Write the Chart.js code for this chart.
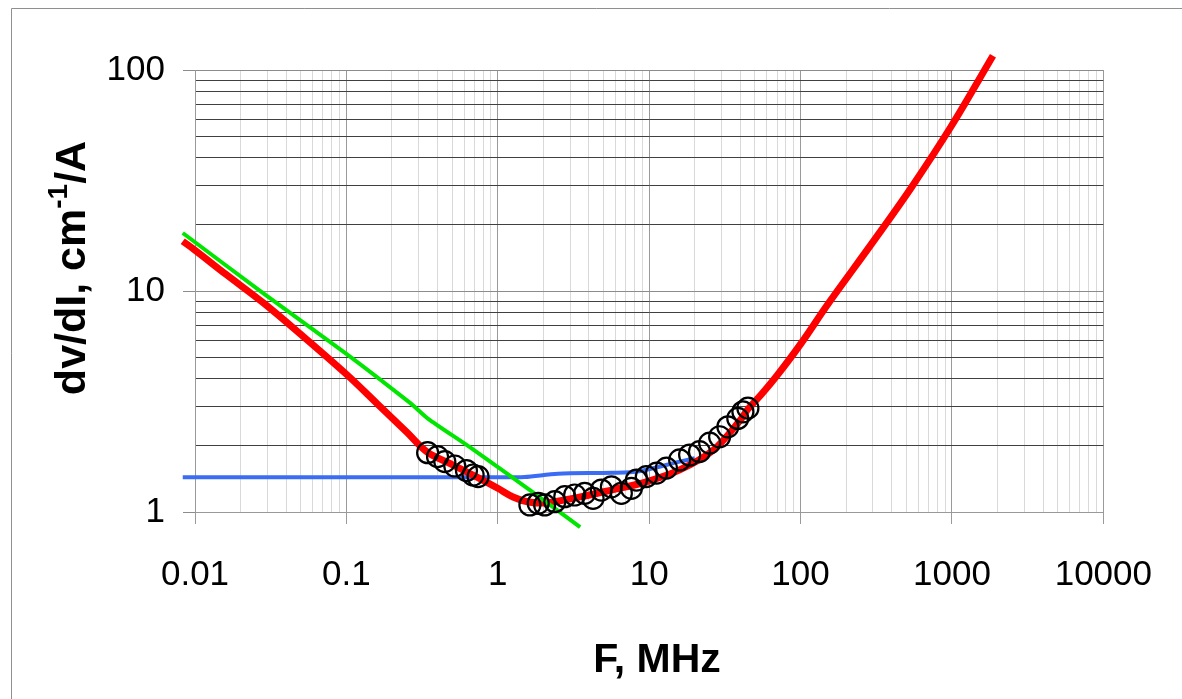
<!DOCTYPE html>
<html>
<head>
<meta charset="utf-8">
<style>
  body { margin: 0; background: #fff; }
  canvas#chart { display: block; }
</style>
</head>
<body>
<canvas id="chart" width="1182" height="699"></canvas>

<script src="https://cdn.jsdelivr.net/npm/chart.js"></script>
<script>
  // measured points (open circles), F in MHz, dv/dI in cm^-1/A
  const measF = [0.344, 0.40, 0.447, 0.52, 0.621, 0.687, 0.741,
                 1.63, 1.85, 2.04, 2.38, 2.77, 3.22, 3.75, 4.26, 4.83, 5.63, 6.55, 7.63,
                 8.24, 9.58, 11.2, 13.0, 15.9, 18.5, 21.5, 25.1, 29.2, 33.1, 38.5, 41.6, 44.9];
  const measV = [1.855, 1.78, 1.69, 1.615, 1.54, 1.47, 1.445,
                 1.076, 1.095, 1.076, 1.113, 1.173, 1.194, 1.215, 1.153, 1.257, 1.30, 1.215, 1.28,
                 1.395, 1.445, 1.50, 1.58, 1.72, 1.81, 1.875, 2.05, 2.19, 2.43, 2.65, 2.84, 2.95];

  // red model curve
  const redF = [0.0083, 0.01, 0.016, 0.0285, 0.05, 0.1, 0.159, 0.25, 0.344, 0.5, 0.74, 1.0, 1.26, 1.6, 2.1,
                3.5, 5.7, 9.6, 15.9, 26.4, 39.9, 44.9, 55, 70, 100, 153, 305, 541, 982, 1866];
  const redV = [16.8, 15.3, 11.9, 8.8, 6.36, 4.2, 3.1, 2.3, 1.86, 1.64, 1.43, 1.28, 1.17, 1.11, 1.1,
                1.17, 1.26, 1.37, 1.55, 1.9, 2.6, 2.92, 3.4, 4.15, 5.75, 8.8, 16.9, 29.5, 55.2, 116];

  // green curve (low frequency asymptote)
  const greenF = [0.0083, 0.0286, 0.1, 0.266, 0.347, 0.65, 1.7, 3.5];
  const greenV = [18.3, 9.7, 5.2, 3.1, 2.64, 1.97, 1.23, 0.855];

  // blue curve (flat level)
  const blueF = [0.0083, 0.1, 1.0, 1.5, 2.5, 5.7, 8.6, 15.9, 20];
  const blueV = [1.435, 1.435, 1.435, 1.44, 1.49, 1.505, 1.53, 1.69, 1.75];

  const xTicks = [0.01, 0.1, 1, 10, 100, 1000, 10000];
  const xTickLabels = ['0.01', '0.1', '1', '10', '100', '1000', '10000'];
  const yTicks = [1, 10, 100];
  const yTickLabels = ['1', '10', '100'];

  function pts(xs, ys) {
    return xs.map((x, i) => ({ x: x, y: ys[i] }));
  }

  // 1..9 steps in each decade, decade marks flagged major
  function logTicks(decades) {
    const out = [];
    decades.forEach((d, i) => {
      if (i === decades.length - 1) {
        out.push({ value: d, major: true });
        return;
      }
      for (let k = 1; k < 10; k++) out.push({ value: d * k, major: k === 1 });
    });
    return out;
  }

  function labelFor(value, vals, labels) {
    const i = vals.findIndex(t => Math.abs(t - value) < t * 1e-6);
    return i >= 0 ? labels[i] : '';
  }

  const TICK_FONT = { family: 'Liberation Sans', size: 35 };

  const frame = {
    id: 'frame',
    beforeDraw(chart) {
      const c = chart.ctx;
      c.save();
      c.strokeStyle = '#8f8f8f';
      c.lineWidth = 1;
      c.beginPath();
      c.moveTo(11.5, 699);
      c.lineTo(11.5, 8.5);
      c.lineTo(1182, 8.5);
      c.stroke();
      c.restore();
    },
    afterDraw(chart) {
      const c = chart.ctx;
      c.save();
      c.fillStyle = '#000';
      // x axis title
      c.font = 'bold 41px "Liberation Sans"';
      c.textAlign = 'center';
      c.textBaseline = 'alphabetic';
      c.fillText('F, MHz', 657, 672);

      // y axis title with superscript
      const big = 'bold 43px "Liberation Sans"';
      const small = 'bold 28px "Liberation Sans"';
      const parts = [['dv/dI, cm', big, 0], ['-1', small, -18], ['/A', big, 0]];
      let total = 0;
      parts.forEach(p => { c.font = p[1]; total += c.measureText(p[0]).width; });
      c.translate(85, 268);
      c.rotate(-Math.PI / 2);
      c.textAlign = 'left';
      let x = -total / 2;
      parts.forEach(p => {
        c.font = p[1];
        c.fillText(p[0], x, p[2]);
        x += c.measureText(p[0]).width;
      });
      c.restore();
    }
  };

  const ctx = document.getElementById('chart');
  new Chart(ctx, {
    type: 'scatter',
    data: {
      datasets: [
        {
          label: 'measured',
          data: pts(measF, measV),
          showLine: false,
          pointStyle: 'circle',
          pointRadius: 10.5,
          borderWidth: 2.2,
          borderColor: '#000',
          backgroundColor: 'rgba(0,0,0,0)',
          clip: false,
          order: 0
        },
        {
          label: 'green',
          data: pts(greenF, greenV),
          showLine: true,
          pointRadius: 0,
          borderColor: '#00e600',
          borderWidth: 4,
          tension: 0.2,
          clip: false,
          order: 1
        },
        {
          label: 'red',
          data: pts(redF, redV),
          showLine: true,
          pointRadius: 0,
          borderColor: '#ff0000',
          borderWidth: 7,
          tension: 0.35,
          clip: false,
          order: 2
        },
        {
          label: 'blue',
          data: pts(blueF, blueV),
          showLine: true,
          pointRadius: 0,
          borderColor: '#3a6cf4',
          borderWidth: 4,
          tension: 0.3,
          clip: false,
          order: 3
        }
      ]
    },
    options: {
      responsive: false,
      animation: false,
      layout: { padding: { left: 0, top: 70, right: 78, bottom: 0 } },
      plugins: {
        legend: { display: false },
        tooltip: { enabled: false }
      },
      scales: {
        x: {
          type: 'logarithmic',
          min: 0.01,
          max: 10000,
          afterBuildTicks: s => { s.ticks = logTicks(xTicks); },
          afterFit: s => { s.height = 187; },
          border: { color: '#999', width: 1 },
          grid: {
            color: c => (c.tick && c.tick.major ? '#9a9a9a' : '#d9d9d9'),
            tickColor: c => (c.tick && c.tick.major ? '#9a9a9a' : 'rgba(0,0,0,0)'),
            tickLength: 12
          },
          ticks: {
            autoSkip: false,
            maxRotation: 0,
            minRotation: 0,
            padding: 30,
            color: '#000',
            font: TICK_FONT,
            callback: v => labelFor(v, xTicks, xTickLabels)
          }
        },
        y: {
          type: 'logarithmic',
          min: 1,
          max: 100,
          afterBuildTicks: s => { s.ticks = logTicks(yTicks); },
          afterFit: s => { s.width = 195; },
          border: { color: '#999', width: 1 },
          grid: {
            color: c => (c.tick && c.tick.major ? '#8c8c8c' : '#404040'),
            tickColor: c => (c.tick && c.tick.major ? '#8c8c8c' : 'rgba(0,0,0,0)'),
            tickLength: 12
          },
          ticks: {
            autoSkip: false,
            padding: 18,
            color: '#000',
            font: TICK_FONT,
            callback: v => labelFor(v, yTicks, yTickLabels)
          }
        }
      }
    },
    plugins: [frame]
  });
</script>
</body>
</html>
